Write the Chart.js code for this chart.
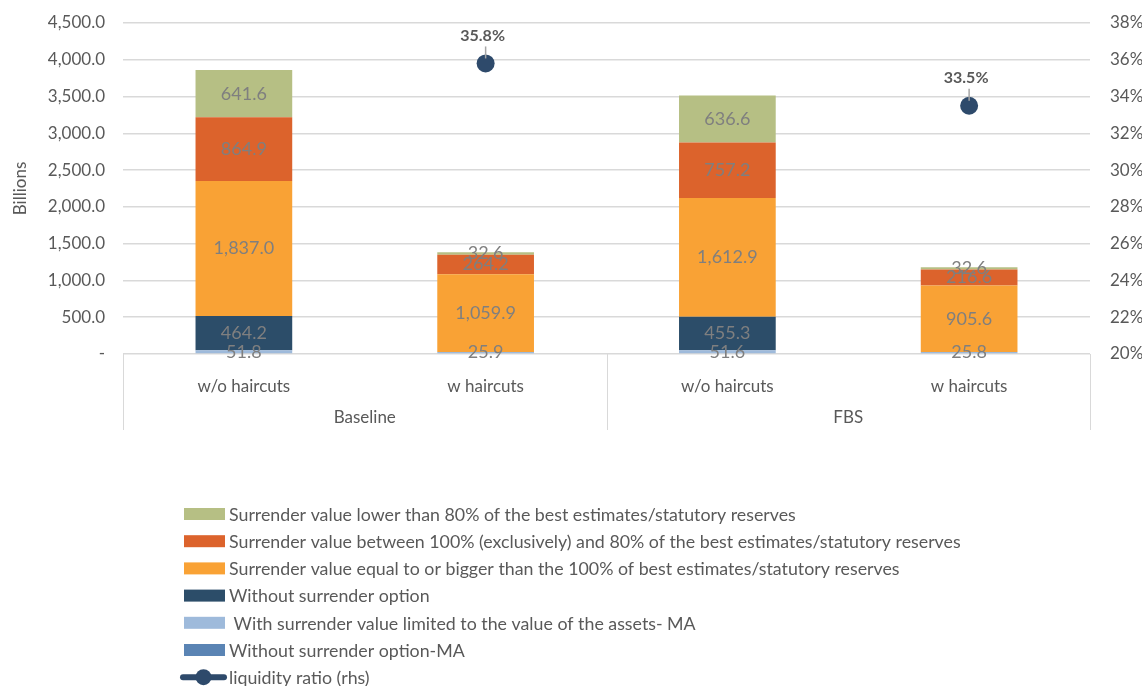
<!DOCTYPE html>
<html>
<head>
<meta charset="utf-8">
<script src="https://cdn.jsdelivr.net/npm/chart.js@4.4.1/dist/chart.umd.min.js"></script>
<style>
  html, body { margin: 0; padding: 0; background: #ffffff; }
  #wrap { width: 1142px; height: 686px; position: relative; }
</style>
</head>
<body>
<div id="wrap"><canvas id="chart"></canvas></div>
<script>
// Chart values (billions / %)
const categories = ['w/o haircuts', 'w haircuts', 'w/o haircuts', 'w haircuts'];
const groups = ['Baseline', 'FBS'];

const withoutOptionMA   = [0, 0, 0, 0];
const limitedToAssetsMA = [51.8, 25.9, 51.6, 25.8];
const withoutOption     = [464.2, 0, 455.3, 0];
const equalOrBigger     = [1837.0, 1059.9, 1612.9, 905.6];
const between100and80   = [864.9, 264.2, 757.2, 216.6];
const lowerThan80       = [641.6, 32.6, 636.6, 32.6];
const liquidityRatio    = [null, 35.8, null, 33.5];

const FONT = 'Lato, "Open Sans", sans-serif';
const TEXT_GREY = '#595959';
const LABEL_GREY = '#7f7f7f';
const GRID = '#d9d9d9';

const colors = {
    withoutOptionMA: '#5a84b4',
    limited: '#9ebadb',
    withoutOption: '#2c4d69',
    equal: '#f9a235',
    between: '#dc632c',
    lower: '#b6bf84',
    ratio: '#2e4a6b'
};

function fmt(v) {
    return v.toLocaleString('en-US', { minimumFractionDigits: 1, maximumFractionDigits: 1 });
}

// value labels in the middle of each bar segment + labels above ratio points
const valueLabels = {
    id: 'valueLabels',
    afterDatasetsDraw(chart) {
        const ctx = chart.ctx;
        ctx.save();
        ctx.textAlign = 'center';
        ctx.textBaseline = 'middle';
        chart.data.datasets.forEach((ds, i) => {
            const meta = chart.getDatasetMeta(i);
            if (meta.hidden) return;
            meta.data.forEach((el, j) => {
                const v = ds.data[j];
                if (v === null || v === 0) return;
                if (ds.type === 'line') {
                    ctx.strokeStyle = '#a6a6a6';
                    ctx.lineWidth = 1.5;
                    ctx.beginPath();
                    ctx.moveTo(el.x, el.y - 17);
                    ctx.lineTo(el.x, el.y - 5);
                    ctx.stroke();
                    ctx.fillStyle = TEXT_GREY;
                    ctx.font = 'bold 16px ' + FONT;
                    ctx.fillText(v.toFixed(1) + '%', el.x - 3, el.y - 28);
                } else {
                    ctx.fillStyle = LABEL_GREY;
                    ctx.font = '18px ' + FONT;
                    ctx.fillText(fmt(v), el.x, (el.y + el.base) / 2);
                }
            });
        });
        ctx.restore();
    }
};

// second level of the category axis: group names and separators
const groupAxis = {
    id: 'groupAxis',
    afterDraw(chart) {
        const ctx = chart.ctx;
        const x = chart.scales.x;
        const area = chart.chartArea;
        const per = categories.length / groups.length;
        const half = (x.getPixelForValue(1) - x.getPixelForValue(0)) / 2;
        ctx.save();
        ctx.strokeStyle = GRID;
        ctx.lineWidth = 1;
        ctx.fillStyle = TEXT_GREY;
        ctx.font = '17px ' + FONT;
        ctx.textAlign = 'center';
        ctx.textBaseline = 'middle';
        groups.forEach((g, gi) => {
            const x0 = x.getPixelForValue(gi * per) - half;
            const x1 = x.getPixelForValue(gi * per + per - 1) + half;
            ctx.beginPath();
            ctx.moveTo(Math.round(x0) + 0.5, area.bottom);
            ctx.lineTo(Math.round(x0) + 0.5, area.bottom + 76);
            ctx.moveTo(Math.round(x1) + 0.5, area.bottom);
            ctx.lineTo(Math.round(x1) + 0.5, area.bottom + 76);
            ctx.stroke();
            ctx.fillText(g, (x0 + x1) / 2, area.bottom + 64);
        });
        ctx.restore();
    }
};

// legend drawn as a single column under the chart
const columnLegend = {
    id: 'columnLegend',
    afterDraw(chart) {
        const ctx = chart.ctx;
        const items = chart.data.datasets.filter(d => d.type !== 'line').slice().reverse();
        items.push(chart.data.datasets.find(d => d.type === 'line'));
        ctx.save();
        ctx.font = '17.8px ' + FONT;
        ctx.textBaseline = 'middle';
        ctx.textAlign = 'left';
        items.forEach((d, i) => {
            const y = 514 + i * 27.2;
            if (d.type === 'line') {
                ctx.strokeStyle = d.borderColor;
                ctx.lineWidth = 6;
                ctx.lineCap = 'round';
                ctx.beginPath();
                ctx.moveTo(183, y);
                ctx.lineTo(224, y);
                ctx.stroke();
                ctx.fillStyle = d.backgroundColor;
                ctx.beginPath();
                ctx.arc(203.5, y, 8, 0, Math.PI * 2);
                ctx.fill();
            } else {
                ctx.fillStyle = d.backgroundColor;
                ctx.fillRect(184, y - 6, 41, 12);
            }
            ctx.fillStyle = TEXT_GREY;
            ctx.fillText(d.label, 229, y + 1);
        });
        ctx.restore();
    }
};

const barBase = { type: 'bar', stack: 's', barPercentage: 0.4, categoryPercentage: 1.0, order: 1 };

new Chart(document.getElementById('chart'), {
    data: {
        labels: categories,
        datasets: [
            { ...barBase, label: 'Without surrender option-MA', data: withoutOptionMA, backgroundColor: colors.withoutOptionMA },
            { ...barBase, label: ' With surrender value limited to the value of the assets- MA', data: limitedToAssetsMA, backgroundColor: colors.limited },
            { ...barBase, label: 'Without surrender option', data: withoutOption, backgroundColor: colors.withoutOption },
            { ...barBase, label: 'Surrender value equal to or bigger than the 100% of best estimates/statutory reserves', data: equalOrBigger, backgroundColor: colors.equal },
            { ...barBase, label: 'Surrender value between 100% (exclusively) and 80% of the best estimates/statutory reserves', data: between100and80, backgroundColor: colors.between },
            { ...barBase, label: 'Surrender value lower than 80% of the best estimates/statutory reserves', data: lowerThan80, backgroundColor: colors.lower },
            {
                type: 'line',
                label: 'liquidity ratio (rhs)',
                data: liquidityRatio,
                yAxisID: 'y1',
                showLine: false,
                borderColor: colors.ratio,
                backgroundColor: colors.ratio,
                pointRadius: 9,
                pointBorderWidth: 0,
                order: 0
            }
        ]
    },
    options: {
        responsive: true,
        maintainAspectRatio: false,
        animation: false,
        layout: { padding: { top: 23, bottom: 256, left: 0, right: 0 } },
        plugins: {
            legend: { display: false },
            tooltip: { enabled: false }
        },
        scales: {
            x: {
                stacked: true,
                grid: { display: false },
                border: { display: false },
                ticks: { color: TEXT_GREY, font: { family: FONT, size: 17 }, padding: 14 },
                afterFit: s => { s.height = 76; }
            },
            y: {
                stacked: true,
                min: 0,
                max: 4500,
                position: 'left',
                grid: { color: GRID, lineWidth: 1.5, drawTicks: false },
                border: { display: false },
                ticks: {
                    stepSize: 500,
                    color: TEXT_GREY,
                    font: { family: FONT, size: 17 },
                    padding: 18,
                    callback: v => v === 0 ? '-' : fmt(v)
                },
                title: { display: true, text: 'Billions', color: TEXT_GREY, font: { family: FONT, size: 17 }, padding: { top: 10, bottom: 0 } },
                afterFit: s => { s.width = 123; s.paddingTop = 0; s.paddingBottom = 0; }
            },
            y1: {
                min: 20,
                max: 38,
                position: 'right',
                grid: { display: false },
                border: { display: false },
                ticks: {
                    stepSize: 2,
                    color: TEXT_GREY,
                    font: { family: FONT, size: 17 },
                    padding: 12,
                    callback: v => v + '%'
                },
                afterFit: s => { s.width = 52; s.paddingTop = 0; s.paddingBottom = 0; }
            }
        }
    },
    plugins: [valueLabels, groupAxis, columnLegend]
});
</script>
</body>
</html>
